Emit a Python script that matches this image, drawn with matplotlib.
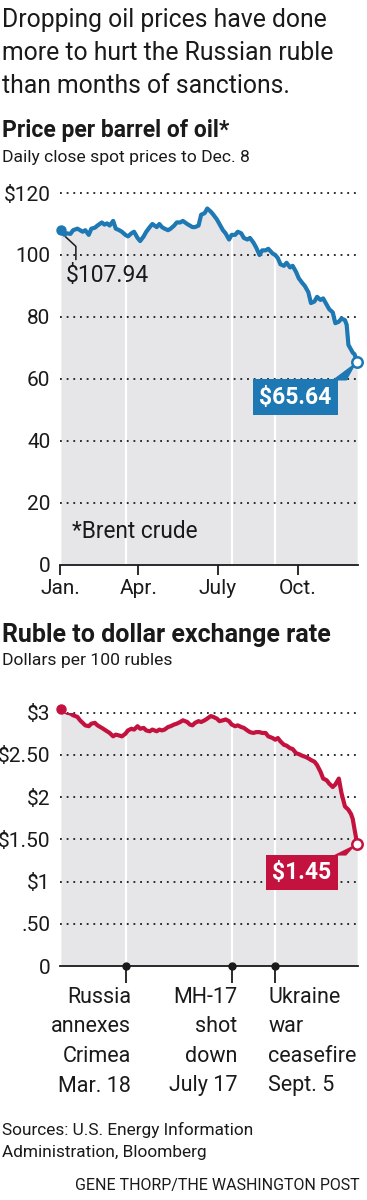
import pandas as pd
import matplotlib
matplotlib.use('Agg')
import matplotlib.pyplot as plt
import matplotlib.transforms as mtransforms
import matplotlib.dates as mdates

plt.rcParams['font.family'] = ['Roboto', 'DejaVu Sans']

# trading days sampled through 2014 (month-day)
days = ['01-02', '01-06', '01-09', '01-13', '01-16', '01-21', '01-24', '01-27', '01-30',
        '02-03', '02-06', '02-10', '02-13', '02-18', '02-21', '02-24', '02-27',
        '03-03', '03-06', '03-10', '03-13', '03-17', '03-20', '03-24', '03-27', '03-31',
        '04-03', '04-07', '04-10', '04-14', '04-17', '04-22', '04-25', '04-28',
        '05-01', '05-05', '05-08', '05-12', '05-15', '05-19', '05-22', '05-27', '05-30',
        '06-02', '06-05', '06-09', '06-12', '06-16', '06-19', '06-23', '06-26', '06-30',
        '07-03', '07-07', '07-10', '07-14', '07-17', '07-21', '07-24', '07-28', '07-31',
        '08-04', '08-07', '08-11', '08-14', '08-18', '08-21', '08-25', '08-28',
        '09-02', '09-05', '09-08', '09-11', '09-15', '09-18', '09-22', '09-25', '09-29',
        '10-02', '10-06', '10-09', '10-13', '10-16', '10-20', '10-23', '10-27', '10-30',
        '11-03', '11-06', '11-10', '11-13', '11-17', '11-20', '11-24', '11-26', '11-28',
        '12-01', '12-03', '12-05', '12-08']

oil_prices = [107.94, 106.5, 107.0, 106.8, 108.0, 108.5, 108.0, 107.5, 108.0,
              106.5, 108.5, 108.8, 109.5, 110.5, 109.8, 110.2, 109.5,
              111.0, 108.5, 108.0, 107.5, 106.5, 106.0, 107.0, 107.5, 105.5,
              104.5, 106.0, 107.5, 109.0, 110.0, 109.0, 110.0, 109.0,
              108.5, 108.0, 108.5, 109.5, 110.5, 110.5, 111.0, 110.0, 109.5,
              109.0, 109.0, 109.5, 113.0, 113.5, 115.0, 114.0, 113.0, 111.5,
              110.0, 108.0, 107.0, 105.0, 106.5, 106.5, 107.5, 107.0, 105.5,
              105.0, 105.5, 104.0, 102.5, 100.0, 101.5, 101.5, 102.0,
              100.5, 100.0, 99.0, 97.0, 96.5, 97.5, 96.0, 96.5, 94.5,
              92.5, 91.0, 90.0, 88.0, 84.5, 85.0, 86.5, 85.5, 86.0,
              84.0, 82.5, 81.5, 78.0, 78.5, 79.5, 79.0, 77.5, 71.0,
              69.5, 68.5, 68.0, 65.64]

ruble_usd = [3.04, 3.02, 3.00, 2.99, 2.97, 2.95, 2.91, 2.88, 2.85,
             2.84, 2.87, 2.88, 2.85, 2.82, 2.80, 2.78, 2.76,
             2.72, 2.74, 2.73, 2.72, 2.75, 2.79, 2.81, 2.80, 2.84,
             2.81, 2.82, 2.79, 2.78, 2.80, 2.78, 2.80, 2.79,
             2.80, 2.83, 2.84, 2.86, 2.87, 2.89, 2.91, 2.89, 2.86,
             2.85, 2.88, 2.90, 2.89, 2.91, 2.93, 2.96, 2.95, 2.93,
             2.90, 2.91, 2.92, 2.90, 2.86, 2.84, 2.85, 2.83, 2.82,
             2.79, 2.77, 2.76, 2.77, 2.77, 2.76, 2.76, 2.72,
             2.70, 2.68, 2.70, 2.66, 2.62, 2.61, 2.58, 2.57, 2.52,
             2.51, 2.49, 2.48, 2.46, 2.44, 2.42, 2.38, 2.30, 2.22,
             2.20, 2.16, 2.12, 2.15, 2.22, 2.05, 1.89, 1.87, 1.85,
             1.80, 1.74, 1.62, 1.45]

month_ticks = ['2014-01-01', '2014-04-01', '2014-07-01', '2014-10-01']
month_labels = ['Jan.', 'Apr.', 'July', 'Oct.']

oil_yticks = [0, 20, 40, 60, 80, 100, 120]
oil_ylabels = ['0', '20', '40', '60', '80', '100', '$120']
ruble_yticks = [0, 0.5, 1, 1.5, 2, 2.5, 3]
ruble_ylabels = ['0', '.50', '$1', '$1.50', '$2', '$2.50', '$3']

event_dates = ['2014-03-18', '2014-07-17', '2014-09-05']
event_labels = [['Russia', 'annexes', 'Crimea', 'Mar. 18'],
                ['MH-17', 'shot', 'down', 'July 17'],
                ['Ukraine', 'war', 'ceasefire', 'Sept. 5']]

BLUE = '#1d78b3'
RED = '#c4123f'
GREY = '#e6e6e8'
INK = '#1a1a1a'

dates = pd.to_datetime(['2014-' + d for d in days])
events = pd.to_datetime(event_dates)

W, H = 367, 1200
fig = plt.figure(figsize=(W / 100, H / 100), dpi=100)


def ftext(x, y, s, **kw):
    fig.text(x / W, 1 - y / H, s, va='baseline', color=INK, **kw)


def inch_offset(ax, date, value):
    # transform for offsets (in inches) measured from a data point
    return fig.dpi_scale_trans + mtransforms.ScaledTranslation(
        mdates.date2num(date), value, ax.transData)


def panel(top, bottom, values, color, yticks, ylabels):
    ax = fig.add_axes([60 / W, 1 - bottom / H, 298 / W, (bottom - top) / H])
    ax.set_facecolor('none')
    ax.fill_between(dates, values, 0, color=GREY, lw=0, zorder=1)
    for d in events:
        ax.axvline(d, color='white', lw=1.6, zorder=2)
    for y in yticks[1:]:
        ax.axhline(y, color=INK, lw=1.3, ls=(0, (1, 2.7)), zorder=3, clip_on=False)
    ax.plot(dates, values, color=color, lw=3, solid_joinstyle='round', zorder=4)
    ax.plot([dates[0]], [values[0]], 'o', ms=6.5, color=color, zorder=5, clip_on=False)
    ax.plot([dates[-1]], [values[-1]], 'o', ms=7.5, mfc='white', mec=color, mew=1.8,
            zorder=9, clip_on=False)
    ax.set_xlim(pd.Timestamp('2014-01-01'), pd.Timestamp('2014-12-09'))
    ax.set_ylim(0, yticks[-1])
    ax.set_yticks(yticks, ylabels)
    ax.tick_params(axis='y', length=0, pad=7, labelsize=15, labelcolor=INK)
    for s in ['top', 'right', 'left']:
        ax.spines[s].set_visible(False)
    ax.spines['bottom'].set_linewidth(1.3)
    ax.spines['bottom'].set_color(INK)
    return ax


def end_label(ax, values, text, color, off, wedge):
    ax.annotate(text, xy=(dates[-1], values[-1]), xytext=off, textcoords='offset points',
                ha='center', va='center', color='white', fontsize=16.5, fontweight='bold',
                bbox=dict(boxstyle='square,pad=0.28', fc=color, ec='none'),
                zorder=7, annotation_clip=False)
    (ax_, ay), (bx, by) = wedge
    ax.fill([ax_, bx, 0], [ay, by, 0], color=color, lw=0, zorder=7, clip_on=False,
            transform=inch_offset(ax, dates[-1], values[-1]))


# header
ftext(2, 27, 'Dropping oil prices have done', fontsize=17.8)
ftext(2, 60, 'more to hurt the Russian ruble', fontsize=17.8)
ftext(2, 93, 'than months of sanctions.', fontsize=17.8)
ftext(2, 137, 'Price per barrel of oil*', fontsize=16.5, fontweight='bold')
ftext(2, 162, 'Daily close spot prices to Dec. 8', fontsize=12.6)

# oil panel
ax1 = panel(193, 565, oil_prices, BLUE, oil_yticks, oil_ylabels)
ax1.set_xticks(pd.to_datetime(month_ticks), month_labels)
ax1.tick_params(axis='x', length=7, width=1.3, pad=3, labelsize=15, color=INK, labelcolor=INK)
end_label(ax1, oil_prices, '$65.64', BLUE, (-44.6, -25.6),
          ((-0.255, -0.19), (-0.105, -0.19)))

ax1.plot([0.05, 0.15, 0.15], [-0.067, -0.16, -0.29], color=INK, lw=1.1,
         transform=inch_offset(ax1, dates[0], oil_prices[0]), clip_on=False, zorder=5)
ax1.annotate('$107.94', xy=(dates[0], oil_prices[0]), xytext=(3.6, -37.2),
             textcoords='offset points', ha='left', va='baseline', fontsize=16.5, color=INK)
ax1.text(0.04, 0.073, '*Brent crude', transform=ax1.transAxes, fontsize=16.3,
         color=INK, va='baseline')

# ruble panel
ftext(2, 642, 'Ruble to dollar exchange rate', fontsize=18, fontweight='bold')
ftext(2, 665, 'Dollars per 100 rubles', fontsize=12.6)

ax2 = panel(712.7, 966, ruble_usd, RED, ruble_yticks, ruble_ylabels)
ax2.set_xticks([])
end_label(ax2, ruble_usd, '$1.45', RED, (-40, -20.8),
          ((-0.24, -0.12), (-0.11, -0.12)))
ax2.annotate('$3.04', xy=(dates[0], ruble_usd[0]), xytext=(7.2, 6.8),
             textcoords='offset points', ha='left', va='baseline', fontsize=16.8, color=INK)

ax2.vlines(events, -0.2, 0, color=INK, lw=1.3, clip_on=False, zorder=5)
ax2.plot(events, [0] * len(events), 'o', ms=5, color=INK, clip_on=False, zorder=6)

event_dx = [3.6, 4.3, -5.0]
event_ha = ['right', 'right', 'left']
for d, lines, dx, ha in zip(events, event_labels, event_dx, event_ha):
    for k, line in enumerate(lines):
        ax2.annotate(line, xy=(d, 0), xytext=(dx, -(37 + 29.5 * k) * 0.72),
                     textcoords='offset points', ha=ha, va='baseline',
                     fontsize=15.5, color=INK, annotation_clip=False)

# footer
ftext(2, 1135, 'Sources: U.S. Energy Information', fontsize=12.4)
ftext(2, 1157, 'Administration, Bloomberg', fontsize=12.4)
ftext(360, 1190, 'GENE THORP/THE WASHINGTON POST', fontsize=11.5, ha='right')

fig.savefig('out.png', dpi=100)
